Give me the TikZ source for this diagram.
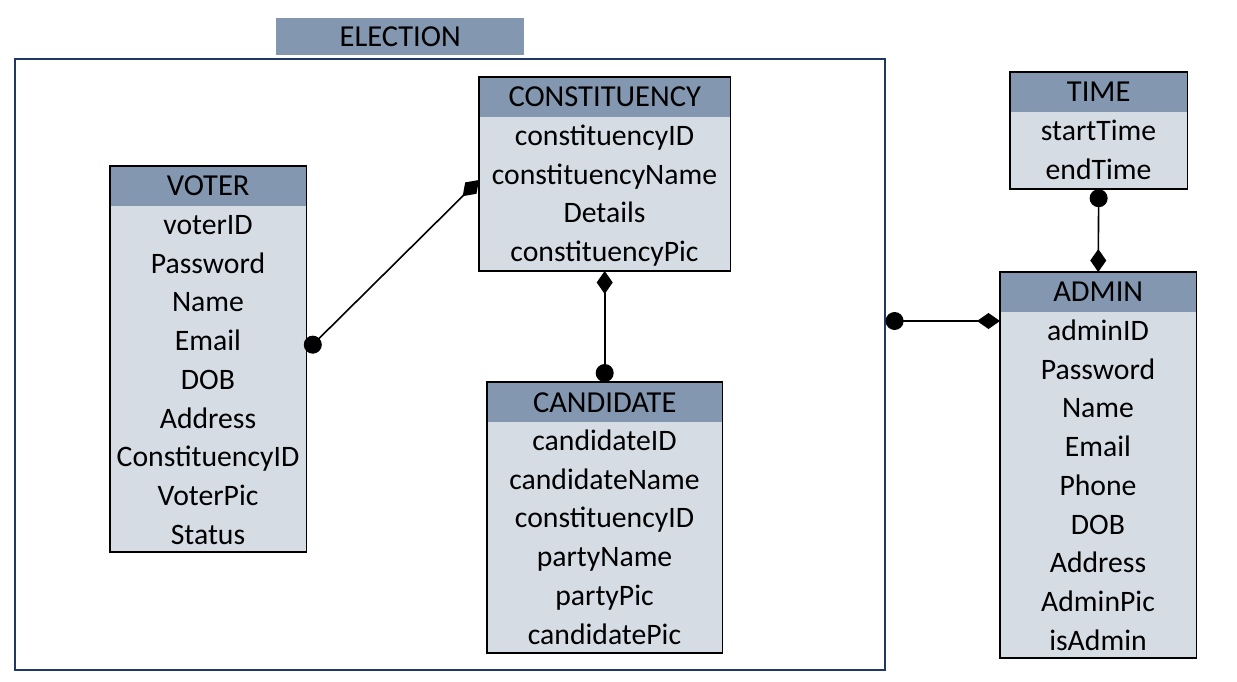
\documentclass[tikz,border=0pt]{standalone}
\usepackage{fontspec}
\setmainfont{Carlito}
\usetikzlibrary{arrows.meta}
\definecolor{hdblue}{HTML}{8497B0}
\definecolor{rowgray}{HTML}{D6DCE4}
\definecolor{framenavy}{HTML}{1F3864}
\begin{document}
\begin{tikzpicture}[x=1pt,y=-1pt,font=\fontsize{29.7}{35}\selectfont,
	hd/.style={fill=hdblue,minimum height=40pt,anchor=north west,inner sep=0pt,font=\fontsize{30.5}{35}\selectfont},
	bd/.style={fill=rowgray,anchor=north west,inner sep=0pt},
	row/.style={inner sep=0pt,text height=20pt,text depth=6pt},
	rel/.style={line width=1.6pt,{Diamond[length=23pt,width=16pt]}-{Circle[length=18pt]}}]
	\useasboundingbox (0,0) rectangle (1237,681);
	\newcommand{\entity}[7]{% name, x, y, width, title, number of rows, rows
		\node[hd,minimum width=#4] (#1-h) at (#2,#3) {#5};
		\node[bd,minimum width=#4,minimum height=#6*38.4] (#1) at (#2,#3+40) {};
		\foreach \t [count=\i] in {#7} \node[row] (#1-\i) at (#2+#4/2,{#3+61.5+38.7*(\i-1)}) {\t};
		\draw[line width=1.6pt] (#1-h.north west) rectangle (#1.south east);}
	% election frame
	\node[draw=framenavy,line width=1.6pt,minimum width=870,minimum height=611,anchor=north west,inner sep=0pt] (election) at (14,58) {};
	\node[hd,minimum width=248,minimum height=37] (election-h) at (276,18) {ELECTION};
	\entity{const}{479}{77}{251}{CONSTITUENCY}{4}{constituencyID,constituencyName,Details,constituencyPic}
	\entity{voter}{110}{166}{196}{VOTER}{9}{voterID,Password,Name,Email,DOB,Address,ConstituencyID,VoterPic,Status}
	\entity{cand}{487}{382}{235}{CANDIDATE}{6}{candidateID,candidateName,constituencyID,partyName,partyPic,candidatePic}
	\entity{time}{1010}{72}{177}{TIME}{2}{startTime,endTime}
	\entity{admin}{1000}{272}{196}{ADMIN}{9}{adminID,Password,Name,Email,Phone,DOB,Address,AdminPic,isAdmin}
	% relations
	\draw[rel] ([yshift=14pt]const.west) -- ([yshift=28pt]voter.east);
	\draw[rel] (const.south) -- (cand-h.north);
	\draw[rel] (admin-h.north) -- (time.south);
	\coordinate (a1) at ([yshift=-9pt]admin.north west);
	\draw[rel] (a1) -- (a1 -| election.east);
\end{tikzpicture}
\end{document}
